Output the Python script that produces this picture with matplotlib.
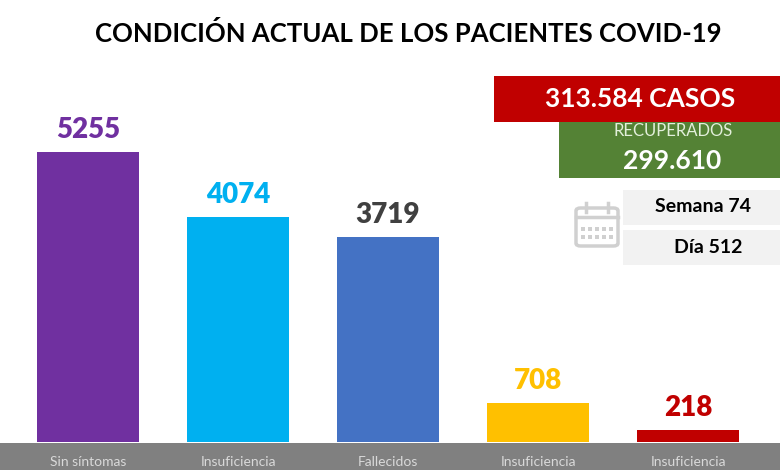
import matplotlib
matplotlib.use("Agg")
import matplotlib.pyplot as plt
from matplotlib import patches, transforms

plt.rcParams['font.family'] = ['Lato', 'DejaVu Sans']

categorias = ["Sin síntomas", "Insuficiencia", "Fallecidos", "Insuficiencia", "Insuficiencia"]
valores = [5255, 4074, 3719, 708, 218]
colores_barra = ["#7030A0", "#00B0F0", "#4472C4", "#FFC000", "#C00000"]
colores_texto = ["#7030A0", "#00B0F0", "#404040", "#FFC000", "#C00000"]

titulo = "CONDICIÓN ACTUAL DE LOS PACIENTES COVID-19"
casos = "313.584 CASOS"
recuperados = "299.610"
semana = "Semana 74"
dia = "Día 512"

W, H = 780, 470


def fx(px):
    return px / W


def fy(py):
    return 1 - py / H


fig = plt.figure(figsize=(7.8, 4.7), dpi=100)
fig.patch.set_facecolor("white")

# franja gris inferior
fig.add_artist(patches.Rectangle((0, 0), 1, 27 / H, transform=fig.transFigure,
                                 facecolor="#808080", edgecolor="none", zorder=0))

ax = fig.add_axes([0, 28 / H, 1, 382 / H])
ax.set_axis_off()
ax.set_xlim(-88 / 150, (780 - 88) / 150)
ax.set_ylim(0, 5255 * 382 / 290)

x = list(range(len(valores)))
ax.bar(x, valores, width=0.68, color=colores_barra)
for i, v in enumerate(valores):
    ax.annotate(str(v), (i, v), xytext=(0, 10), textcoords="offset points",
                ha="center", va="baseline", fontsize=20, fontweight="heavy",
                color=colores_texto[i])

trans = transforms.blended_transform_factory(ax.transData, fig.transFigure)
for i, c in enumerate(categorias):
    ax.text(i, fy(462), c, transform=trans, ha="center", va="center",
            fontsize=10, color="#D9D9D9", clip_on=False)

fig.text(fx(408), fy(33), titulo, ha="center", va="center",
         fontsize=18.5, fontweight="bold", color="black")

# cuadros de la derecha
fig.add_artist(patches.Rectangle((fx(494), fy(122)), fx(780 - 494), 46 / H,
                                 transform=fig.transFigure, facecolor="#C00000", edgecolor="none"))
fig.text(fx(640), fy(99), casos, ha="center", va="center",
         fontsize=19, fontweight="bold", color="white")

fig.add_artist(patches.Rectangle((fx(559), fy(178)), fx(780 - 559), 56 / H,
                                 transform=fig.transFigure, facecolor="#548235", edgecolor="none"))
fig.text(fx(673), fy(131), "RECUPERADOS", ha="center", va="center",
         fontsize=12, color="#E2EFDA")
fig.text(fx(672), fy(161), recuperados, ha="center", va="center",
         fontsize=19, fontweight="bold", color="white")

for top, txt, cx in [(190, semana, 703), (230, dia, 708)]:
    fig.add_artist(patches.Rectangle((fx(623), fy(top + 35)), fx(780 - 623), 35 / H,
                                     transform=fig.transFigure, facecolor="#F2F2F2", edgecolor="none"))
    fig.text(fx(cx), fy(top + 17), txt, ha="center", va="center",
             fontsize=14, fontweight="bold", color="black")

# icono de calendario
ic = "#D0D0D0"
fig.add_artist(patches.FancyBboxPatch((fx(576), fy(246)), fx(42), 38 / H,
                                      boxstyle="round,pad=0,rounding_size=0.006",
                                      transform=fig.transFigure, facecolor="none",
                                      edgecolor=ic, linewidth=2.5))
fig.add_artist(plt.Line2D([fx(576), fx(618)], [fy(217), fy(217)],
                          transform=fig.transFigure, color=ic, linewidth=2.5))
for rx in [586, 608]:
    fig.add_artist(plt.Line2D([fx(rx), fx(rx)], [fy(203), fy(212)],
                              transform=fig.transFigure, color=ic, linewidth=2.5))
for gy in [229, 237]:
    for gx in [583, 590, 597, 604, 611]:
        fig.add_artist(patches.Rectangle((fx(gx - 2), fy(gy + 2)), fx(4), 4 / H,
                                         transform=fig.transFigure, facecolor=ic, edgecolor="none"))

fig.savefig("out.png", dpi=100, facecolor="white")
